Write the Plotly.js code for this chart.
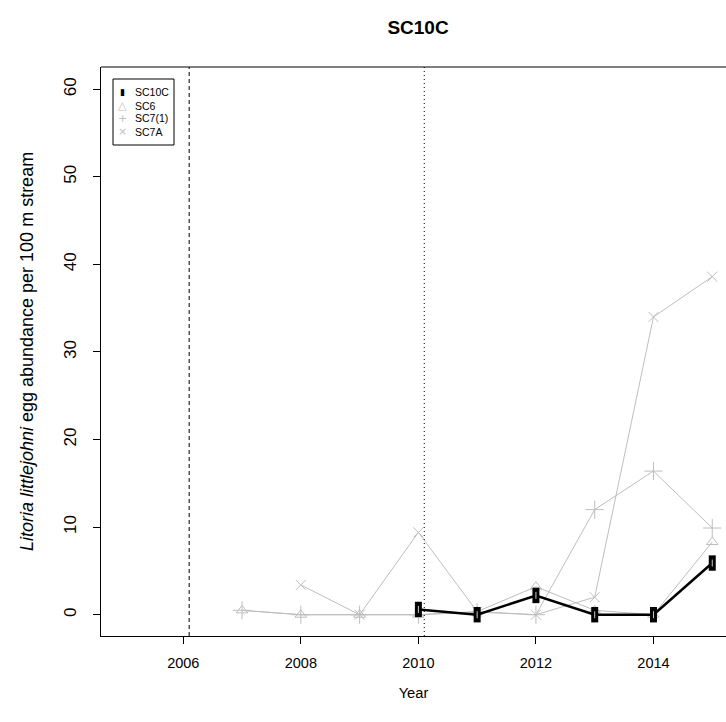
<!DOCTYPE html>
<html>
<head>
<meta charset="utf-8">
<script src="https://cdn.plot.ly/plotly-3.0.1.min.js"></script>
<style>
  html, body { margin: 0; padding: 0; background: #ffffff; }
  #chart { width: 726px; height: 722px; }
</style>
</head>
<body>
<div id="chart"></div>
<script>
// Survey years and egg abundance per 100 m of stream at each site
const yearsSC10C = [2010, 2011, 2012, 2013, 2014, 2015];
const valuesSC10C = [0.6, 0, 2.2, 0, 0, 5.9];

const yearsSC6 = [2007, 2008, 2009, 2010, 2011, 2012, 2013, 2014, 2015];
const valuesSC6 = [0.5, 0, 0, 0, 0.35, 3.2, 0.5, 0, 8.3];

const yearsSC71 = [2007, 2008, 2009, 2010, 2011, 2012, 2013, 2014, 2015];
const valuesSC71 = [0.5, 0, 0, 0, 0.3, 0, 12.0, 16.4, 9.9];

const yearsSC7A = [2008, 2009, 2010, 2011, 2012, 2013, 2014, 2015];
const valuesSC7A = [3.4, 0, 9.4, 0.35, 0, 2.0, 34.0, 38.6];

// Reference events marked with vertical lines
const eventDashed = 2006.1;
const eventDotted = 2010.1;

const siteNames = ['SC10C', 'SC6', 'SC7(1)', 'SC7A'];
const xTicks = [2006, 2008, 2010, 2012, 2014];
const yTicks = [0, 10, 20, 30, 40, 50, 60];

const grey = '#bebebe';
const FONT = 'Liberation Sans, Arial, sans-serif';

// plot-area geometry (pixels) for the hand-drawn legend box
const W = 726, H = 722;
const L = 101, T = 67, B = 86;
const plotW = W - L, plotH = H - T - B;
const px = x => (x - L) / plotW;
const py = y => 1 - (y - T) / plotH;

const greyLine = (x, y) => ({
  x: x, y: y, type: 'scatter', mode: 'lines',
  line: { color: grey, width: 1 }, showlegend: false, hoverinfo: 'skip'
});

const traces = [
  greyLine(yearsSC6, valuesSC6),
  greyLine(yearsSC71, valuesSC71),
  greyLine(yearsSC7A, valuesSC7A),
  {
    x: yearsSC6, y: valuesSC6, type: 'scatter', mode: 'markers', name: siteNames[1],
    marker: { symbol: 'triangle-up-open', size: 10, color: grey, line: { width: 1, color: grey } },
    showlegend: false
  },
  {
    x: yearsSC71, y: valuesSC71, type: 'scatter', mode: 'markers', name: siteNames[2],
    marker: { symbol: 'cross-thin-open', size: 13, color: grey, line: { width: 1, color: grey } },
    showlegend: false
  },
  {
    x: yearsSC7A, y: valuesSC7A, type: 'scatter', mode: 'markers', name: siteNames[3],
    marker: { symbol: 'x-thin-open', size: 10, color: grey, line: { width: 1, color: grey } },
    showlegend: false
  },
  {
    x: yearsSC10C, y: valuesSC10C, type: 'scatter', mode: 'lines', name: siteNames[0],
    line: { color: '#000000', width: 2.5 }, showlegend: false
  },
  {
    x: yearsSC10C, y: valuesSC10C, type: 'scatter', mode: 'markers', name: siteNames[0],
    marker: { symbol: 'line-ns', size: 11, color: '#000000', line: { width: 7, color: '#000000' } },
    showlegend: false
  },
  {
    x: yearsSC10C, y: valuesSC10C, type: 'scatter', mode: 'markers', name: siteNames[0],
    marker: { symbol: 'line-ns', size: 5, color: '#ffffff', line: { width: 0.8, color: '#ffffff' } },
    showlegend: false, hoverinfo: 'skip'
  }
];

// legend drawn inside the top-left corner of the plot
const legendRows = [92.5, 105.5, 118.5, 131.5];
const legendGlyphs = ['▮', '△', '+', '×'];
const legendGlyphColors = ['#000000', grey, grey, grey];
const annotations = [];
siteNames.forEach((name, i) => {
  annotations.push({
    xref: 'paper', yref: 'paper', x: px(133), y: py(legendRows[i]),
    xanchor: 'left', yanchor: 'middle', showarrow: false,
    text: name, font: { family: FONT, size: 10.5, color: '#000000' }
  });
  annotations.push({
    xref: 'paper', yref: 'paper', x: px(122), y: py(legendRows[i]),
    xanchor: 'center', yanchor: 'middle', showarrow: false,
    text: legendGlyphs[i],
    font: { family: 'DejaVu Sans, sans-serif', size: i === 0 ? 9 : 11, color: legendGlyphColors[i] }
  });
});

const shapes = [
  { type: 'line', xref: 'x', yref: 'paper', x0: eventDashed, x1: eventDashed, y0: 0, y1: 1,
    line: { color: '#000000', width: 1, dash: '4px,3px' } },
  { type: 'line', xref: 'x', yref: 'paper', x0: eventDotted, x1: eventDotted, y0: 0, y1: 1,
    line: { color: '#000000', width: 1, dash: '1px,3px' } },
  { type: 'line', xref: 'paper', yref: 'paper', x0: 0, x1: 1, y0: 1, y1: 1,
    line: { color: '#000000', width: 1 } },
  { type: 'rect', xref: 'paper', yref: 'paper', x0: px(113), x1: px(174), y0: py(145), y1: py(79),
    line: { color: '#000000', width: 1 }, fillcolor: 'rgba(255,255,255,1)', layer: 'above' }
];

const layout = {
  width: W, height: H,
  margin: { l: L, r: 0, t: T, b: B, pad: 0 },
  paper_bgcolor: '#ffffff', plot_bgcolor: '#ffffff',
  font: { family: FONT, size: 14.5, color: '#000000' },
  title: {
    text: '<b>SC10C</b>', font: { family: FONT, size: 19, color: '#000000' },
    xref: 'paper', x: (418 - L) / plotW, xanchor: 'center',
    yref: 'container', y: 1 - 27 / H, yanchor: 'middle'
  },
  xaxis: {
    range: [2004.6, 2015.234], tickvals: xTicks, ticktext: xTicks.map(String),
    ticks: 'outside', ticklen: 7, tickwidth: 1, tickcolor: '#000000',
    showline: true, linecolor: '#000000', linewidth: 1, mirror: false,
    showgrid: false, zeroline: false, ticklabelstandoff: 7,
    tickfont: { family: FONT, size: 14.5 },
    title: { text: 'Year', font: { family: FONT, size: 14.7 }, standoff: 17 }
  },
  yaxis: {
    range: [-2.43, 62.54], tickvals: yTicks, ticktext: yTicks.map(String),
    ticks: 'outside', ticklen: 7, tickwidth: 1, tickcolor: '#000000',
    showline: true, linecolor: '#000000', linewidth: 1, mirror: false,
    showgrid: false, zeroline: false, tickangle: -90, ticklabelstandoff: 10,
    tickfont: { family: FONT, size: 17 },
    title: { text: '<i>Litoria littlejohni</i> egg abundance per 100 m stream',
             font: { family: FONT, size: 18 }, standoff: 22 }
  },
  shapes: shapes,
  annotations: annotations,
  showlegend: false
};

Plotly.newPlot('chart', traces, layout, { displayModeBar: false, staticPlot: true });
</script>
</body>
</html>
